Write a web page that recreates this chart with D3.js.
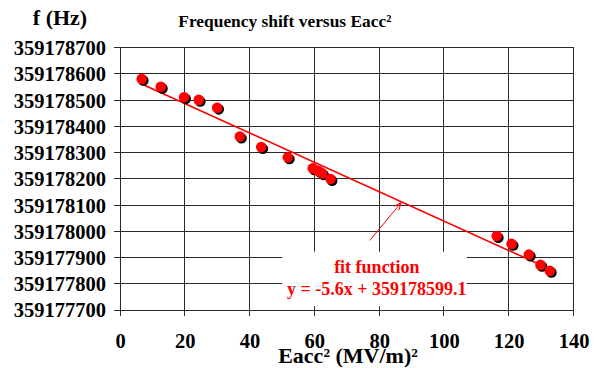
<!DOCTYPE html>
<html>
<head>
<meta charset="utf-8">
<script src="https://cdn.jsdelivr.net/npm/d3@7"></script>
<style>
  html, body { margin: 0; padding: 0; background: #fff; }
  svg { display: block; }
</style>
</head>
<body>
<svg id="chart" width="598" height="368" font-family="'Liberation Serif', 'Times New Roman', serif" font-weight="bold"></svg>
<script>
// ---- data ----
const eacc2 = [6.7, 12.6, 19.8, 24.3, 30.0, 37.0, 43.6, 51.8, 59.5, 61.2, 62.4, 65.0, 116.3, 120.9, 126.2, 129.8, 132.7];
const freq = [359178581, 359178551, 359178511, 359178501, 359178471, 359178361, 359178321, 359178282,
              359178240, 359178231, 359178221, 359178199, 359177982, 359177952, 359177911, 359177872, 359177849];
const fitSlope = -5.6;
const fitIntercept = 359178599.1;
const xTicks = [0, 20, 40, 60, 80, 100, 120, 140];
const yTicks = [359177700, 359177800, 359177900, 359178000, 359178100, 359178200, 359178300, 359178400, 359178500, 359178600, 359178700];
const titleText = "Frequency shift versus Eacc²";
const yTitle = "f (Hz)";
const xTitle = "Eacc² (MV/m)²";
const fitLines = ["fit function", "y = -5.6x + 359178599.1"];

// ---- layout ----
const FONT = "'Liberation Serif', 'Times New Roman', serif";
const svg = d3.select("#chart");
const mLeft = 120, mRight = 573.5, mTop = 47.7, mBottom = 310;
const x = d3.scaleLinear().domain([0, 140]).range([mLeft, mRight]);
const y = d3.scaleLinear().domain([359177700, 359178700]).range([mBottom, mTop]);
const gridColor = "#2a2a2a";

// gridlines (vertical + horizontal) with outward tick extension
const gx = svg.append("g").attr("shape-rendering", "crispEdges");
xTicks.forEach(t => {
  gx.append("line").attr("x1", x(t)).attr("x2", x(t)).attr("y1", mTop).attr("y2", mBottom + 6)
    .attr("stroke", gridColor).attr("stroke-width", 1);
});
yTicks.forEach(t => {
  gx.append("line").attr("x1", mLeft - 6).attr("x2", mRight).attr("y1", y(t)).attr("y2", y(t))
    .attr("stroke", gridColor).attr("stroke-width", 1);
});

// axis tick labels via d3 axes
const xAxis = d3.axisBottom(x).tickValues(xTicks).tickSize(0).tickPadding(0).tickFormat(d3.format("d"));
const xa = svg.append("g").attr("transform", `translate(0,${mBottom})`).call(xAxis)
  .attr("font-family", FONT).attr("font-weight", "bold").attr("font-size", 20.5);
xa.select(".domain").remove();
xa.selectAll("text").attr("fill", "#000").attr("dy", null).attr("y", 37.5);

const yAxis = d3.axisLeft(y).tickValues(yTicks).tickSize(0).tickPadding(0).tickFormat(d3.format("d"));
const ya = svg.append("g").attr("transform", `translate(${mLeft},0)`).call(yAxis)
  .attr("font-family", FONT).attr("font-weight", "bold").attr("font-size", 20.5);
ya.select(".domain").remove();
ya.selectAll("text").attr("fill", "#000").attr("x", -14).attr("dy", "0.34em");

// fit line
const xs = d3.extent(eacc2);
const fit = v => fitSlope * v + fitIntercept;
svg.append("line")
  .attr("x1", x(xs[0])).attr("y1", y(fit(xs[0])))
  .attr("x2", x(xs[1])).attr("y2", y(fit(xs[1])))
  .attr("stroke", "#ff0000").attr("stroke-width", 1.6);

// annotation box
const bx = x(50.1), bw = x(107) - x(50.1);
svg.append("rect").attr("x", bx).attr("y", 251.7).attr("width", bw).attr("height", 54.5).attr("fill", "#fff");

// arrow to the fit line
const tipX = 86.8;
const tip = [x(tipX), y(fit(tipX)) + 1];
const tail = [x(77.1), y(359177965)];
svg.append("line").attr("x1", tail[0]).attr("y1", tail[1]).attr("x2", tip[0]).attr("y2", tip[1])
  .attr("stroke", "#ff0000").attr("stroke-width", 1);
const ang = Math.atan2(tail[1] - tip[1], tail[0] - tip[0]);
[0.4, -0.4].forEach(da => {
  svg.append("line").attr("x1", tip[0]).attr("y1", tip[1])
    .attr("x2", tip[0] + 8 * Math.cos(ang + da)).attr("y2", tip[1] + 8 * Math.sin(ang + da))
    .attr("stroke", "#ff0000").attr("stroke-width", 1);
});

// annotation text
const cx = x(79.3);
svg.append("text").attr("x", cx).attr("y", 272.7).attr("text-anchor", "middle")
  .attr("font-size", 18).attr("fill", "#ff0000").text(fitLines[0]);
svg.append("text").attr("x", cx).attr("y", 295).attr("text-anchor", "middle")
  .attr("font-size", 18).attr("fill", "#ff0000").text(fitLines[1]);

// points with shadow
const pts = svg.append("g");
pts.selectAll("circle.sh").data(eacc2).join("circle").attr("class", "sh")
  .attr("cx", (d) => x(d) + 1.6).attr("cy", (d, i) => y(freq[i]) + 1.6).attr("r", 5.3).attr("fill", "#000");
pts.selectAll("circle.pt").data(eacc2).join("circle").attr("class", "pt")
  .attr("cx", (d) => x(d)).attr("cy", (d, i) => y(freq[i])).attr("r", 5.3).attr("fill", "#ff0000");

// titles
svg.append("text").attr("x", 178.3).attr("y", 26.5).attr("font-size", 17.4).attr("fill", "#000").text(titleText);
svg.append("text").attr("x", 60).attr("y", 25).attr("text-anchor", "middle").attr("font-size", 22).attr("fill", "#000").text(yTitle);
svg.append("text").attr("x", 348).attr("y", 363).attr("text-anchor", "middle").attr("font-size", 22).attr("fill", "#000").text(xTitle);
</script>
</body>
</html>
